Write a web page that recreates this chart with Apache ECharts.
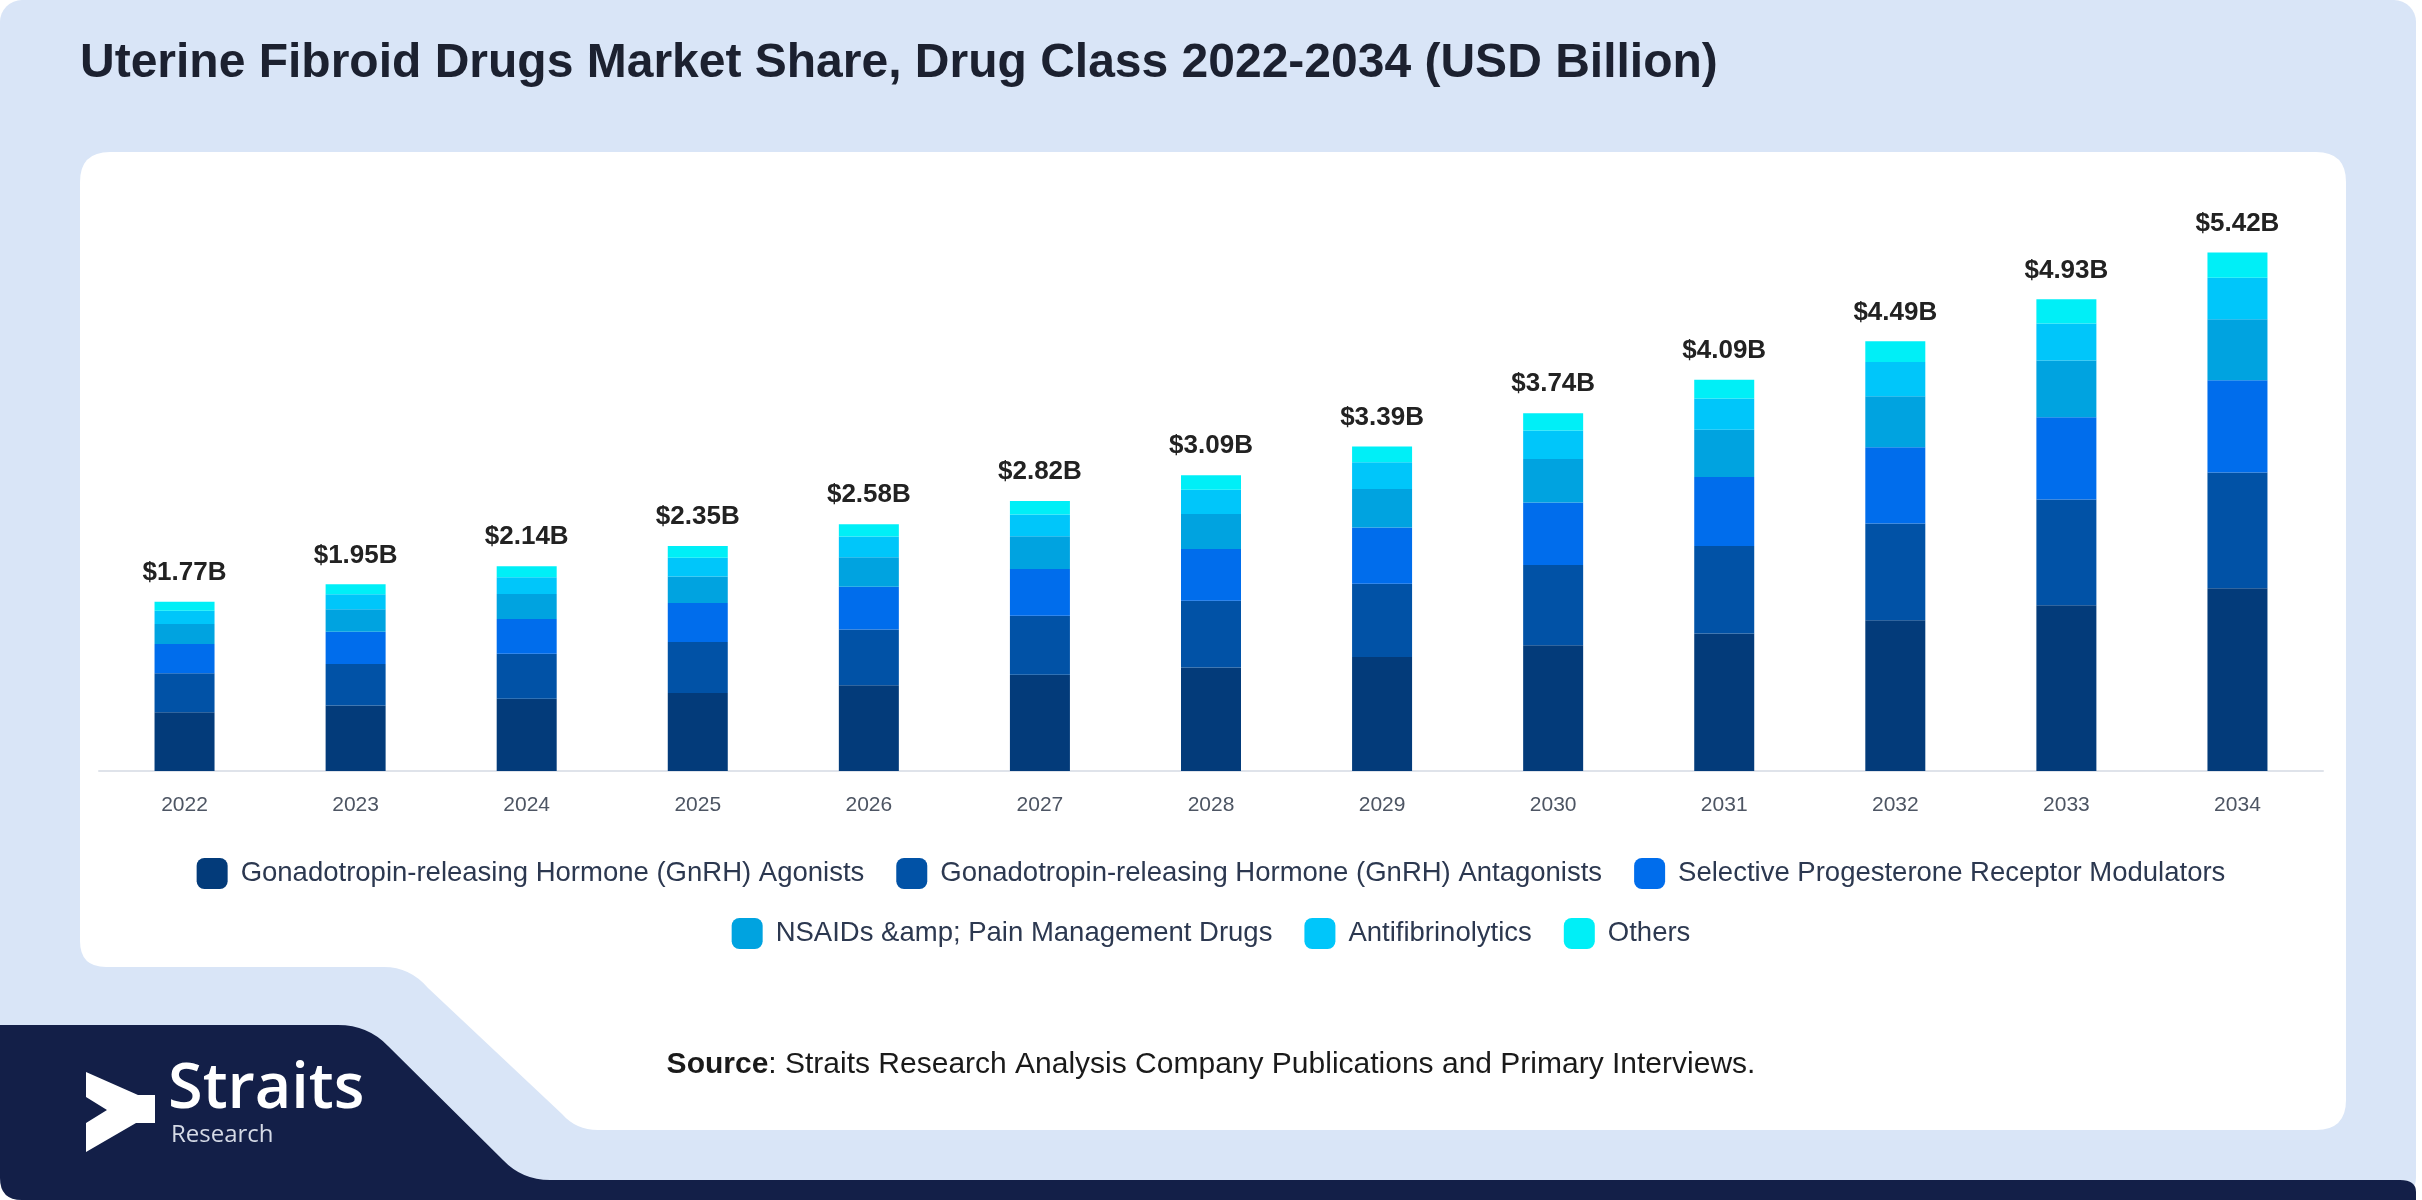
<!DOCTYPE html>
<html>
<head>
<meta charset="utf-8">
<script src="https://cdn.jsdelivr.net/npm/echarts@6/dist/echarts.min.js"></script>
<style>
html,body{margin:0;padding:0;background:#ffffff;}
#chart{width:2422px;height:1200px;}
</style>
</head>
<body>
<div id="chart"></div>
<script>
const years = ['2022','2023','2024','2025','2026','2027','2028','2029','2030','2031','2032','2033','2034'];
const seriesNames = [
  'Gonadotropin-releasing Hormone (GnRH) Agonists',
  'Gonadotropin-releasing Hormone (GnRH) Antagonists',
  'Selective Progesterone Receptor Modulators',
  'NSAIDs &amp; Pain Management Drugs',
  'Antifibrinolytics',
  'Others'
];
const agonists     = [0.615,0.684,0.755,0.815,0.897,1.005,1.081,1.192,1.314,1.436,1.576,1.733,1.911];
const antagonists  = [0.407,0.434,0.470,0.533,0.583,0.618,0.698,0.766,0.839,0.915,1.010,1.106,1.208];
const sprm         = [0.306,0.337,0.365,0.407,0.447,0.489,0.541,0.587,0.654,0.723,0.797,0.858,0.966];
const nsaids       = [0.209,0.236,0.261,0.279,0.307,0.342,0.366,0.402,0.454,0.492,0.535,0.595,0.638];
const antifib      = [0.139,0.156,0.174,0.195,0.216,0.227,0.255,0.280,0.297,0.328,0.356,0.386,0.433];
const others       = [0.094,0.104,0.115,0.122,0.129,0.140,0.150,0.164,0.182,0.196,0.217,0.252,0.263];
const totals       = [1.77,1.95,2.14,2.35,2.58,2.82,3.09,3.39,3.74,4.09,4.49,4.93,5.42];

const colors = ['#033b7a','#0152a6','#006dec','#00a3e0','#00c6fa','#00eff7'];
const seriesData = [agonists, antagonists, sprm, nsaids, antifib, others];

// custom path shape for background panels
const CmdPath = echarts.graphic.extendShape({
  shape: { cmds: [] },
  buildPath: function (ctx, shape) {
    shape.cmds.forEach(function (c) {
      if (c[0] === 'M') ctx.moveTo(c[1], c[2]);
      else if (c[0] === 'L') ctx.lineTo(c[1], c[2]);
      else if (c[0] === 'Q') ctx.quadraticCurveTo(c[1], c[2], c[3], c[4]);
      else if (c[0] === 'Z') ctx.closePath();
    });
  }
});
echarts.graphic.registerShape('cmdPath', CmdPath);

const chart = echarts.init(document.getElementById('chart'), null, {renderer:'canvas'});

const series = seriesData.map((d, i) => {
  const s = {
    name: seriesNames[i],
    type: 'bar',
    stack: 'total',
    barWidth: 60,
    data: d,
    itemStyle: { color: colors[i] },
    emphasis: { disabled: true }
  };
  if (i === seriesData.length - 1) {
    s.label = {
      show: true,
      position: 'top',
      distance: 16,
      fontFamily: 'Liberation Sans, Arial, sans-serif',
      fontSize: 26,
      fontWeight: 'bold',
      color: '#222222',
      formatter: p => '$' + totals[p.dataIndex].toFixed(2) + 'B'
    };
  }
  return s;
});

const cardCmds = [
  ['M',110,152],['L',2316,152],['Q',2346,152,2346,182],['L',2346,1100],['Q',2346,1130,2316,1130],
  ['L',598,1130],['Q',576,1130,562,1114],['L',428,988],['Q',410,967,384,967],['L',106,967],
  ['Q',80,967,80,941],['L',80,182],['Q',80,152,110,152],['Z']
];
const navyCmds = [
  ['M',0,1025],['L',338,1025],['Q',368,1025,388,1046],['L',503,1160],['Q',522,1180,550,1180],
  ['L',2400,1180],['Q',2416,1180,2416,1192],['L',2416,1200],['L',22,1200],['Q',0,1200,0,1178],['Z']
];

const legendBase = {
  left: 'center',
  itemWidth: 31,
  itemHeight: 31,
  itemGap: 32,
  icon: 'roundRect',
  textStyle: { fontFamily: 'Liberation Sans, Arial, sans-serif', fontSize: 27.5, color: '#2c3850', padding: [0,0,0,8] }
};

const option = {
  backgroundColor: '#ffffff',
  animation: false,
  color: colors,
  graphic: [
    { type: 'rect', z: -10, shape: { x: 0, y: 0, width: 2416, height: 1200, r: 22 }, style: { fill: '#d9e5f7' } },
    { type: 'cmdPath', z: -9, shape: { cmds: cardCmds }, style: { fill: '#ffffff' } },
    { type: 'cmdPath', z: -8, shape: { cmds: navyCmds }, style: { fill: '#131f48' } },
    { type: 'polygon', z: -7,
      shape: { points: [[86,1072],[138,1095],[155,1095],[155,1123],[136,1123],[86,1152],[86,1123],[107,1110],[86,1097]] },
      style: { fill: '#ffffff' } },
    { type: 'text', z: -7, left: 168, top: 1059,
      style: { text: 'Straits', fill: '#ffffff', font: '600 63px "Open Sans", sans-serif' } },
    { type: 'text', z: -7, left: 171, top: 1123,
      style: { text: 'Research', fill: '#d5dae6', font: '400 24px "Open Sans", sans-serif' } },
    { type: 'text', left: 80, top: 40,
      style: { text: 'Uterine Fibroid Drugs Market Share, Drug Class 2022-2034 (USD Billion)', fill: '#1c2130',
               font: 'bold 48px "Liberation Sans", Arial, sans-serif' } },
    { type: 'text', left: 'center', top: 1050,
      style: {
        text: '{b|Source}{r|: Straits Research Analysis Company Publications and Primary Interviews.}',
        rich: {
          b: { fontFamily: 'Liberation Sans, Arial, sans-serif', fontSize: 30, fontWeight: 'bold', fill: '#1a1a1a' },
          r: { fontFamily: 'Liberation Sans, Arial, sans-serif', fontSize: 30, fill: '#1a1a1a' }
        }
      } }
  ],
  legend: [
    Object.assign({}, legendBase, { top: 853, data: seriesNames.slice(0, 3) }),
    Object.assign({}, legendBase, { top: 913, data: seriesNames.slice(3) })
  ],
  grid: { left: 99, right: 99, top: 197, bottom: 429, containLabel: false },
  xAxis: {
    type: 'category',
    data: years,
    axisLine: { show: true, lineStyle: { color: '#dfe3ea', width: 2 } },
    axisTick: { show: false },
    axisLabel: { margin: 24, fontFamily: 'Liberation Sans, Arial, sans-serif', fontSize: 21, color: '#4d5563' }
  },
  yAxis: {
    type: 'value', min: 0, max: 6, show: false,
    splitLine: { show: false }
  },
  series: series
};
chart.setOption(option);
</script>
</body>
</html>
